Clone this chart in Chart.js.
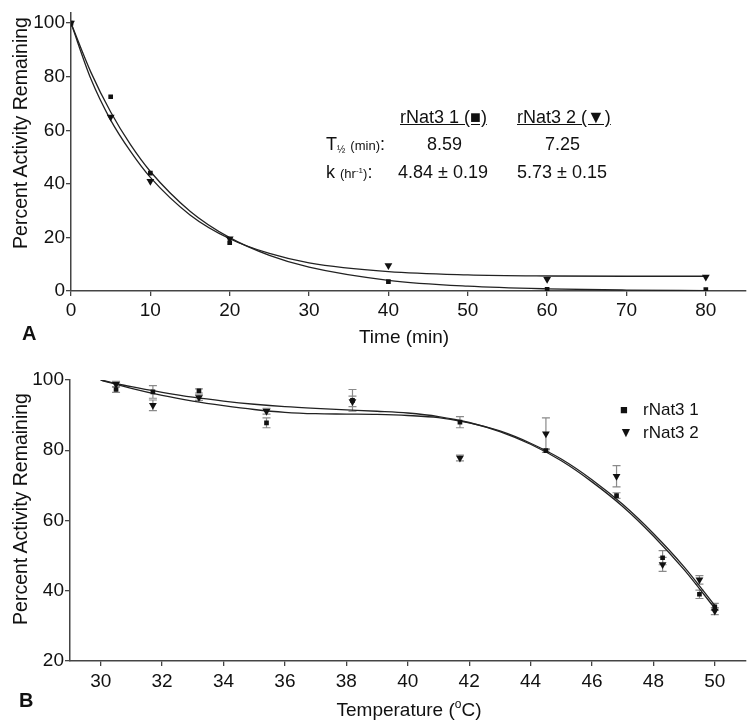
<!DOCTYPE html>
<html>
<head>
<meta charset="utf-8">
<script src="https://cdn.jsdelivr.net/npm/chart.js@4.4.1/dist/chart.umd.min.js"></script>
<style>
  body { margin: 0; background: #fff; }
  #wrap { position: relative; width: 750px; height: 725px; font-family: "Liberation Sans", Arial, sans-serif; color: #111; }
  canvas { position: absolute; left: 0; }
  .t { position: absolute; white-space: nowrap; font-size: 18px; line-height: 1; }
  .sm { font-size: 13px; }
  .ytitle { position: absolute; font-size: 19.5px; white-space: nowrap; transform: translate(-50%, -50%) rotate(-90deg); }
  .xtitle { position: absolute; font-size: 19px; white-space: nowrap; transform: translate(-50%, -50%); }
  .panel { position: absolute; font-size: 20px; font-weight: bold; line-height: 1; }
</style>
</head>
<body>
<div id="wrap">
  <canvas id="chartA" width="750" height="335" style="top:0"></canvas>
  <canvas id="chartB" width="750" height="390" style="top:335px"></canvas>

  <div class="ytitle" style="left:20px; top:133px">Percent Activity Remaining</div>
  <div class="xtitle" style="left:404px; top:337px">Time (min)</div>
  <div class="panel" style="left:22px; top:323px">A</div>

  <div class="t" style="left:400px; top:108px; text-decoration:underline">rNat3 1 (&#9632;)</div>
  <div class="t" style="left:517px; top:108px; text-decoration:underline">rNat3 2 (&#9660;)</div>
  <div class="t" style="left:326px; top:135px">T<span style="font-size:10px; vertical-align:-3px">&#189;</span> <span class="sm">(min)</span>:</div>
  <div class="t" style="left:427px; top:135px">8.59</div>
  <div class="t" style="left:545px; top:135px">7.25</div>
  <div class="t" style="left:326px; top:163px">k <span class="sm">(hr<sup style="font-size:8px">-1</sup>)</span>:</div>
  <div class="t" style="left:398px; top:163px">4.84 &#177; 0.19</div>
  <div class="t" style="left:517px; top:163px">5.73 &#177; 0.15</div>

  <div class="ytitle" style="left:20px; top:509px">Percent Activity Remaining</div>
  <div class="xtitle" style="left:409px; top:709px">Temperature (<sup style="font-size:12px">o</sup>C)</div>
  <div class="panel" style="left:19px; top:690px">B</div>

  <div class="t" style="left:620px; top:403px; font-size:13px">&#9632;</div>
  <div class="t" style="left:643px; top:401px; font-size:17px">rNat3 1</div>
  <div class="t" style="left:619px; top:425px; font-size:14px">&#9660;</div>
  <div class="t" style="left:643px; top:424px; font-size:17px">rNat3 2</div>
</div>
<script>
// panel A: heat inactivation over time
const timeMin = [0, 5, 10, 20, 40, 60, 80];
const nat1Time = [100, 72.5, 44, 18, 3.5, 0.6, 0.5];
const nat2Time = [100, 65, 41, 19.5, 9.5, 4.4, 5.2];
// fitted curves
const fitTimeX = [0, 2.5, 5, 7.5, 10, 15, 20, 25, 30, 40, 50, 60, 70, 80];
const fit1Time = [100, 81.7, 66.8, 54.6, 44.6, 29.8, 19.9, 13.3, 8.9, 4, 1.8, 0.8, 0.35, 0.15];
const fit2Time = [100, 79.2, 63.8, 52.1, 42.4, 28.4, 19.5, 14, 10.5, 7.2, 6, 5.6, 5.5, 5.5];
const timeTicks = [0, 10, 20, 30, 40, 50, 60, 70, 80];
const pctTicksA = [0, 20, 40, 60, 80, 100];

// panel B: temperature
const temps = [30.5, 31.7, 33.2, 35.4, 38.2, 41.7, 44.5, 46.8, 48.3, 49.5, 50];
const nat1Temp = [97.3, 96.6, 96.9, 87.8, 94.2, 88, 79.9, 67.1, 49.4, 39, 35.4];
const nat1Err = [0.8, 1.8, 0.6, 1.4, 3.1, 1.6, 0.5, 0.8, 2.0, 1.2, 1.0];
const nat2Temp = [98.8, 92.8, 95, 91.1, 93.9, 77.8, 84.7, 72.6, 47.5, 43.1, 34.2];
const nat2Err = [0.8, 1.5, 0.8, 0.8, 1.5, 0.8, 4.5, 3.0, 2.0, 1.2, 1.0];
const fitTempX = [30, 31, 32, 33, 34, 35, 36, 37, 38, 39, 40, 41, 42, 43, 44, 45, 46, 47, 48, 49, 50];
const fit1Temp = [100, 98.1, 96.5, 95.1, 94, 93.1, 92.4, 91.9, 91.5, 91.1, 90.6, 89.6, 87.9, 85.3, 81.7, 77, 71, 64, 55.6, 46, 35];
const fit2Temp = [100, 97.6, 95.6, 94, 92.7, 91.6, 90.8, 90.4, 90.3, 90.2, 89.9, 89.3, 87.8, 85.5, 82, 77.5, 71.6, 64.6, 56.3, 46.8, 35.8];
const tempTicks = [30, 32, 34, 36, 38, 40, 42, 44, 46, 48, 50];
const pctTicksB = [20, 40, 60, 80, 100];

const pts = (xs, ys) => xs.map((x, i) => ({x: x, y: ys[i]}));
const axisCol = '#444';
const tickFont = {family: '"Liberation Sans", Arial, sans-serif', size: 19};

// vertical error bars with caps, drawn under the markers
const errorBars = {
  id: 'errorBars',
  beforeDatasetsDraw(chart) {
    const ctx = chart.ctx, xs = chart.scales.x, ys = chart.scales.y;
    chart.data.datasets.forEach(ds => {
      if (!ds.errors) return;
      ctx.save();
      ctx.strokeStyle = '#8a8a8a';
      ctx.lineWidth = 1.2;
      ds.data.forEach((p, i) => {
        const e = ds.errors[i];
        const x = xs.getPixelForValue(p.x);
        const y1 = ys.getPixelForValue(p.y - e), y2 = ys.getPixelForValue(p.y + e);
        ctx.beginPath();
        ctx.moveTo(x, y1); ctx.lineTo(x, y2);
        ctx.moveTo(x - 4, y1); ctx.lineTo(x + 4, y1);
        ctx.moveTo(x - 4, y2); ctx.lineTo(x + 4, y2);
        ctx.stroke();
      });
      ctx.restore();
    });
  }
};

function markers(label, data, style, errors) {
  const ds = {
    type: 'scatter', label: label, data: data, showLine: false,
    pointStyle: style, pointRadius: style === 'rect' ? 3.3 : 4.5,
    pointRotation: style === 'rect' ? 0 : 180,
    backgroundColor: '#111', borderColor: '#111', borderWidth: 0
  };
  if (errors) ds.errors = errors;
  return ds;
}
function curve(data) {
  return {
    type: 'line', data: data, borderColor: '#222', borderWidth: 1.3,
    pointRadius: 0, cubicInterpolationMode: 'monotone', fill: false
  };
}
function axis(min, max, ticks, fit, pad) {
  return {
    type: 'linear', min: min, max: max,
    afterBuildTicks: s => { s.ticks = ticks.map(v => ({value: v})); },
    afterFit: fit,
    ticks: {font: tickFont, color: '#111', padding: pad, maxRotation: 0, autoSkip: false},
    grid: {drawOnChartArea: false, tickLength: 5, color: axisCol, lineWidth: 1.3},
    border: {color: axisCol, width: 1.5}
  };
}

new Chart(document.getElementById('chartA'), {
  data: {
    datasets: [
      markers('rNat3 1', pts(timeMin, nat1Time), 'rect'),
      markers('rNat3 2', pts(timeMin, nat2Time), 'triangle'),
      curve(pts(fitTimeX, fit1Time)),
      curve(pts(fitTimeX, fit2Time))
    ]
  },
  options: {
    responsive: false, animation: false,
    layout: {padding: {top: 12, right: 3, left: 0, bottom: 0}},
    plugins: {legend: {display: false}, tooltip: {enabled: false}},
    scales: {
      x: axis(0, 85, timeTicks, s => { s.height = 44; }, 3),
      y: axis(0, 104, pctTicksA, s => { s.width = 71; }, 1)
    }
  }
});

new Chart(document.getElementById('chartB'), {
  data: {
    datasets: [
      markers('rNat3 1', pts(temps, nat1Temp), 'rect', nat1Err),
      markers('rNat3 2', pts(temps, nat2Temp), 'triangle', nat2Err),
      curve(pts(fitTempX, fit1Temp)),
      curve(pts(fitTempX, fit2Temp))
    ]
  },
  options: {
    responsive: false, animation: false,
    layout: {padding: {top: 45, right: 4, left: 0, bottom: 0}},
    plugins: {legend: {display: false}, tooltip: {enabled: false}},
    scales: {
      x: axis(29, 51, tempTicks, s => { s.height = 64; }, 4),
      y: axis(20, 100, pctTicksB, s => { s.width = 70; }, 1)
    }
  },
  plugins: [errorBars]
});
</script>
</body>
</html>
